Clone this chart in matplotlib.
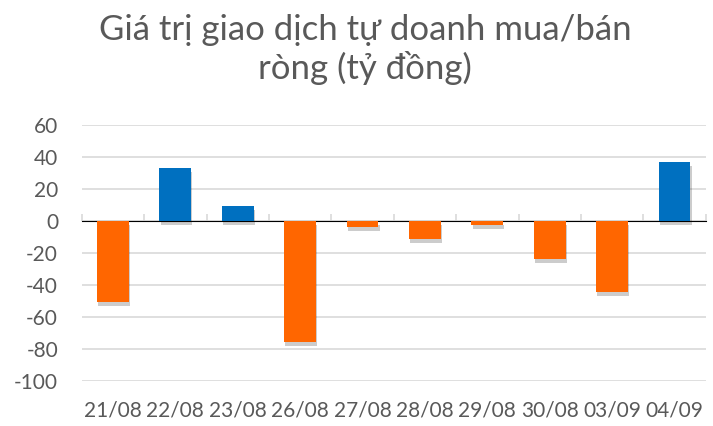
import matplotlib
matplotlib.use("Agg")
import matplotlib.pyplot as plt
import matplotlib.patheffects as pe

categories = ["21/08", "22/08", "23/08", "26/08", "27/08", "28/08", "29/08", "30/08", "03/09", "04/09"]
values = [-50.5, 33.0, 9.6, -75.4, -3.8, -11.3, -2.5, -23.8, -44.4, 36.7]
yticks = [-100, -80, -60, -40, -20, 0, 20, 40, 60]
title = "Giá trị giao dịch tự doanh mua/bán\nròng (tỷ đồng)"

BLUE = "#0070C0"
ORANGE = "#FF6600"
TXT = "#595959"
GRID = "#d9d9d9"

plt.rcParams['font.family'] = ['Lato', 'DejaVu Sans']

fig = plt.figure(figsize=(7.13, 4.26), dpi=100)
ax = fig.add_axes([0.1146, 0.1056, 0.8752, 0.601])

x = list(range(len(categories)))
colors = [BLUE if v >= 0 else ORANGE for v in values]
bars = ax.bar(x, values, width=0.51, color=colors, zorder=3)
for b in bars:
    b.set_path_effects([pe.SimplePatchShadow(offset=(0.8, -3), shadow_rgbFace="black", alpha=0.2),
                        pe.Normal()])

ax.set_xlim(-0.5, len(categories) - 0.5)
ax.set_ylim(-100, 60)
ax.set_yticks(yticks)
ax.set_yticklabels([str(t) for t in yticks])
ax.yaxis.grid(True, color=GRID, linewidth=1.2, zorder=0)
ax.set_axisbelow(True)
for s in ax.spines.values():
    s.set_visible(False)
ax.tick_params(axis='y', length=0, pad=17, labelsize=15, labelcolor=TXT)
ax.set_xticks(x)
ax.set_xticklabels(categories)
ax.tick_params(axis='x', length=0, pad=14, labelsize=15, labelcolor=TXT)

# zero axis with category-boundary ticks
sec = ax.secondary_xaxis((0 - (-100)) / (60 - (-100)))
sec.set_xticks([i - 0.5 for i in range(len(categories) + 1)])
sec.set_xticklabels([])
sec.tick_params(axis='x', direction='out', length=5, width=1.2, color=GRID)
sec.spines['bottom'].set_color(GRID)
sec.spines['bottom'].set_linewidth(1.2)
sec.set_zorder(2)

fig.text(0.512, 0.968, title, ha='center', va='top', fontsize=25, color=TXT, linespacing=1.2)

fig.savefig("out.png", dpi=100)
